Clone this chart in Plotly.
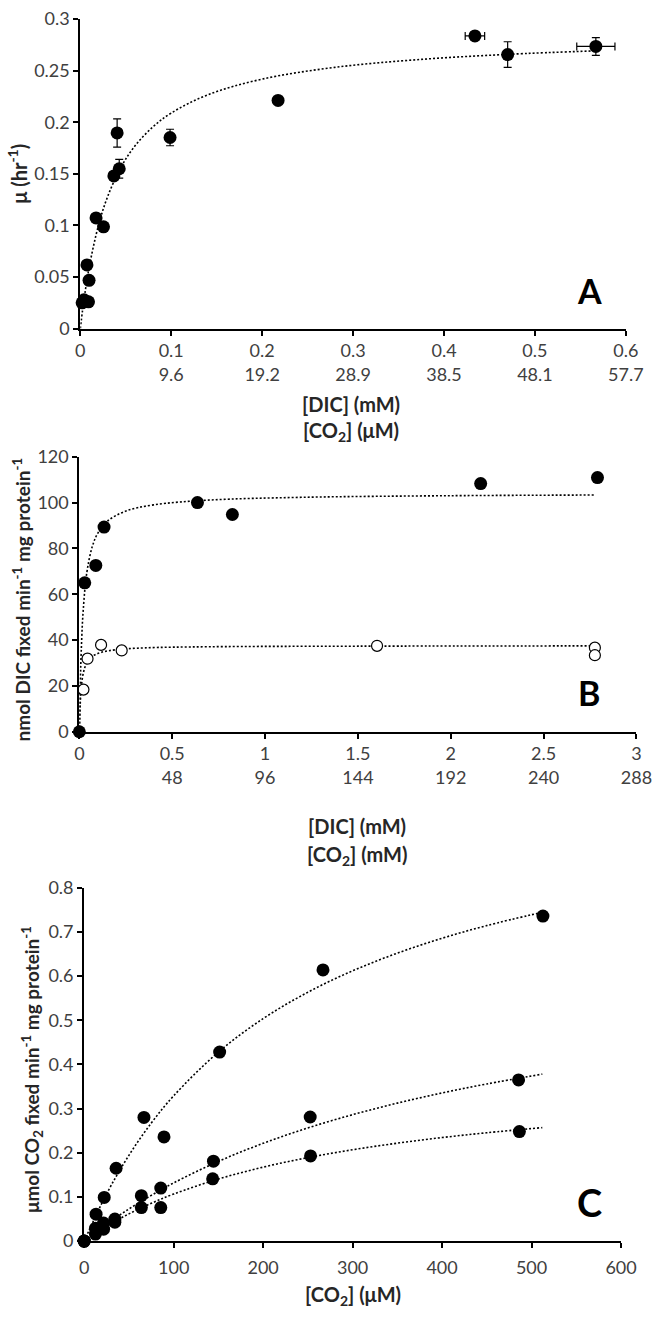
import plotly.graph_objects as go

W, H = 668, 1317

# ---------------- Panel A data ----------------
a_dic = [0.002, 0.004, 0.009, 0.0073, 0.0096, 0.0173, 0.0255, 0.0369, 0.0405, 0.0428,
         0.0987, 0.2175, 0.434, 0.470, 0.567]
a_mu = [0.025, 0.028, 0.026, 0.0618, 0.0468, 0.1073, 0.0987, 0.148, 0.1897, 0.155,
        0.1853, 0.2212, 0.2838, 0.2657, 0.2736]
a_mu_err = [0, 0, 0, 0, 0, 0, 0, 0, 0.0137, 0.009, 0.008, 0, 0, 0.0124, 0.0086]
a_dic_err = [0, 0, 0, 0, 0, 0, 0, 0, 0, 0, 0, 0, 0.0107, 0, 0.021]
a_fit_x = [0, 0.0025, 0.005, 0.01, 0.02, 0.03, 0.045, 0.06, 0.08, 0.1, 0.14, 0.2, 0.28, 0.37, 0.47, 0.57]
a_fit_y = [0, 0.018, 0.0339, 0.0607, 0.1002, 0.1279, 0.1569, 0.177, 0.1957, 0.209, 0.2266,
           0.2419, 0.2533, 0.2607, 0.2659, 0.2694]
a_xtick_vals = [0, 0.1, 0.2, 0.3, 0.4, 0.5, 0.6]
a_xtick_co2 = ["", "9.6", "19.2", "28.9", "38.5", "48.1", "57.7"]

# ---------------- Panel B data ----------------
b_dic_filled = [0, 0.029, 0.0886, 0.133, 0.636, 0.824, 2.161, 2.79]
b_rate_filled = [0, 65.0, 72.6, 89.3, 100.0, 94.8, 108.3, 110.9]
b_dic_open = [0.022, 0.044, 0.117, 0.228, 1.603, 2.776, 2.776]
b_rate_open = [18.4, 31.9, 37.9, 35.5, 37.5, 36.7, 33.4]
b_fit_filled_x = [0, 0.005, 0.01, 0.02, 0.04, 0.07, 0.1, 0.15, 0.25, 0.4, 0.7, 1.2, 2.0, 2.78]
b_fit_filled_y = [0, 20.8, 34.7, 52.0, 69.3, 80.9, 86.7, 91.8, 96.3, 99.0, 101.1, 102.3, 103.0, 103.3]
b_fit_open_x = [0, 0.003, 0.006, 0.01, 0.02, 0.04, 0.07, 0.12, 0.2, 0.35, 0.7, 1.5, 2.78]
b_fit_open_y = [0, 8.7, 14.1, 18.8, 25.1, 30.1, 32.9, 34.7, 35.8, 36.6, 37.1, 37.35, 37.47]
b_xtick_vals = [0, 0.5, 1, 1.5, 2, 2.5, 3]
b_xtick_co2 = ["", "48", "96", "144", "192", "240", "288"]

# ---------------- Panel C data ----------------
c_co2_1 = [0, 13.3, 22.4, 35.7, 66.8, 89.2, 151.4, 266.9, 512.7]
c_rate_1 = [0, 0.061, 0.099, 0.165, 0.280, 0.236, 0.428, 0.614, 0.736]
c_co2_2 = [0, 12.6, 21.7, 34.3, 63.9, 85.6, 144.5, 252.6, 485.5]
c_rate_2 = [0, 0.029, 0.041, 0.050, 0.103, 0.120, 0.181, 0.281, 0.365]
c_co2_3 = [0, 12.6, 21.7, 34.3, 63.9, 85.6, 143.6, 253.0, 486.4]
c_rate_3 = [0, 0.016, 0.027, 0.043, 0.076, 0.076, 0.141, 0.193, 0.248]
c_fit_x = [0, 25, 50, 75, 100, 150, 200, 250, 300, 350, 400, 450, 512]
c_fit_1 = [0, 0.1068, 0.1943, 0.2673, 0.329, 0.428, 0.5038, 0.5636, 0.6121, 0.6521, 0.6858, 0.7145, 0.7447]
c_fit_2 = [0, 0.0384, 0.0728, 0.1035, 0.1318, 0.1805, 0.2214, 0.2563, 0.2863, 0.3125, 0.3355, 0.3559, 0.3781]
c_fit_3 = [0, 0.0335, 0.0617, 0.0856, 0.1065, 0.1406, 0.1675, 0.1891, 0.2069, 0.2218, 0.2345, 0.2454, 0.257]

FONT = "Lato"
TICK_COLOR = "#404040"
TITLE_COLOR = "#262626"


def px_x(p):
    return p / W


def px_y(p):
    return 1 - p / H


DOT = dict(color="black", width=1.6, dash="2px,2px")
FILLED = dict(symbol="circle", size=13, color="black", line=dict(width=0))
OPEN = dict(symbol="circle", size=11, color="white", line=dict(width=1.2, color="black"))

fig = go.Figure()

# Panel A
fig.add_trace(go.Scatter(x=a_fit_x, y=a_fit_y, mode="lines", line=dict(**DOT, shape="spline"),
                         xaxis="x", yaxis="y", hoverinfo="skip"))
fig.add_trace(go.Scatter(x=a_dic, y=a_mu, mode="markers", marker=FILLED, cliponaxis=False,
                         error_y=dict(type="data", array=a_mu_err, color="black", thickness=1.2, width=4),
                         error_x=dict(type="data", array=a_dic_err, color="black", thickness=1.2, width=4),
                         xaxis="x", yaxis="y"))

# Panel B
fig.add_trace(go.Scatter(x=b_fit_filled_x, y=b_fit_filled_y, mode="lines", line=dict(**DOT, shape="spline"),
                         xaxis="x2", yaxis="y2", hoverinfo="skip"))
fig.add_trace(go.Scatter(x=b_fit_open_x, y=b_fit_open_y, mode="lines", line=dict(**DOT, shape="spline"),
                         xaxis="x2", yaxis="y2", hoverinfo="skip"))
fig.add_trace(go.Scatter(x=b_dic_open, y=b_rate_open, mode="markers", marker=OPEN, cliponaxis=False,
                         xaxis="x2", yaxis="y2"))
fig.add_trace(go.Scatter(x=b_dic_filled, y=b_rate_filled, mode="markers", marker=FILLED, cliponaxis=False,
                         xaxis="x2", yaxis="y2"))

# Panel C
for fy in (c_fit_1, c_fit_2, c_fit_3):
    fig.add_trace(go.Scatter(x=c_fit_x, y=fy, mode="lines", line=dict(**DOT, shape="spline"),
                             xaxis="x3", yaxis="y3", hoverinfo="skip"))
for cx, cy in ((c_co2_1, c_rate_1), (c_co2_2, c_rate_2), (c_co2_3, c_rate_3)):
    fig.add_trace(go.Scatter(x=cx, y=cy, mode="markers", marker=FILLED, cliponaxis=False,
                             xaxis="x3", yaxis="y3"))

axis_common = dict(showline=True, linecolor="black", linewidth=2, ticks="outside", ticklen=5,
                   tickwidth=1.5, tickcolor="black", showgrid=False, zeroline=False,
                   tickfont=dict(family=FONT, size=18, color=TICK_COLOR), fixedrange=True)


def two_row(vals, second):
    out = []
    for v, s in zip(vals, second):
        out.append(f"{v:g}<br>{s}" if s else f"{v:g}")
    return out


# panel geometry in pixels
A = dict(x0=78, x1=643, top=7.3, bot=322)
B = dict(x0=77, x1=654, top=452.3, bot=732)
C = dict(x0=82, x1=638, top=890.7, bot=1250)

fig.update_layout(
    width=W, height=H, margin=dict(l=0, r=0, t=0, b=0),
    paper_bgcolor="white", plot_bgcolor="white", showlegend=False,
    xaxis=dict(axis_common, domain=[px_x(A["x0"]), px_x(A["x1"])], anchor="y", range=[0, 0.6],
               tickvals=a_xtick_vals, ticktext=two_row(a_xtick_vals, a_xtick_co2)),
    yaxis=dict(axis_common, domain=[px_y(A["bot"]), px_y(A["top"])], anchor="x", range=[0, 0.3],
               dtick=0.05),
    xaxis2=dict(axis_common, domain=[px_x(B["x0"]), px_x(B["x1"])], anchor="y2", range=[0, 3],
                tickvals=b_xtick_vals, ticktext=two_row(b_xtick_vals, b_xtick_co2)),
    yaxis2=dict(axis_common, domain=[px_y(B["bot"]), px_y(B["top"])], anchor="x2", range=[0, 120],
                dtick=20),
    xaxis3=dict(axis_common, domain=[px_x(C["x0"]), px_x(C["x1"])], anchor="y3", range=[0, 600],
                dtick=100, ticklabelstandoff=4),
    yaxis3=dict(axis_common, domain=[px_y(C["bot"]), px_y(C["top"])], anchor="x3", range=[0, 0.8],
                dtick=0.1),
)

title_font = dict(family=FONT, size=20, color=TITLE_COLOR)
ytitle_font = dict(family=FONT, size=19, color=TITLE_COLOR)
letter_font = dict(family=FONT, size=34, color="black")


def ann(text, xp, yp, font, angle=0):
    fig.add_annotation(text=text, xref="paper", yref="paper", x=px_x(xp), y=px_y(yp),
                       xanchor="center", yanchor="middle", showarrow=False, font=font,
                       textangle=angle)


# x titles
ann("<b>[DIC] (mM)<br>[CO<sub>2</sub>] (μM)</b>", 358, 413, title_font)
ann("<b>[DIC] (mM)</b>", 365, 828, title_font)
ann("<b>[CO<sub>2</sub>] (mM)</b>", 365, 858, title_font)
ann("<b>[CO<sub>2</sub>] (μM)</b>", 360, 1305, title_font)

# y titles
ann("<b>μ (hr<sup>-1</sup>)</b>", 13, 165, title_font, -90)
ann("<b>nmol DIC fixed min<sup>-1</sup> mg protein<sup>-1</sup></b>", 17, 597, ytitle_font, -90)
ann("<b>μmol CO<sub>2</sub> fixed min<sup>-1</sup> mg protein<sup>-1</sup></b>", 28, 1076, ytitle_font, -90)

# panel letters
ann("<b>A</b>", 605, 283, letter_font)
ann("<b>B</b>", 605, 692, letter_font)
ann("<b>C</b>", 605, 1210, dict(family=FONT, size=38, color="black"))

fig.write_html("out.html")
